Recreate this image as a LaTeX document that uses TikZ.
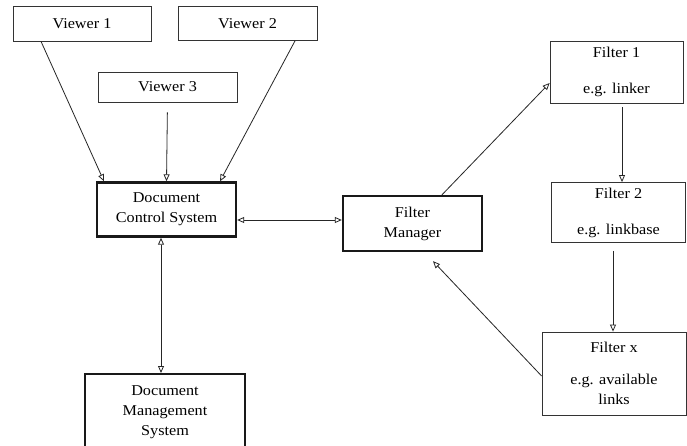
\documentclass[tikz,border=0pt]{standalone}
\usepackage{fontspec}
\setmainfont{Liberation Serif}[FakeStretch=1.08]
\usetikzlibrary{arrows.meta}
\begin{document}
\begin{tikzpicture}[x=1pt,y=-1pt,
  thinbox/.style={draw=black!80,line width=0.8pt,inner sep=0pt,align=center,
    font=\fontsize{15}{20}\selectfont,text=black},
  thickbox/.style={thinbox,line width=2.4pt,draw=black!90},
  arr/.style={draw=black!85,line width=0.8pt,-{Triangle[open,length=7pt,width=6pt]}},
  darr/.style={draw=black!85,line width=0.8pt,{Triangle[open,length=7pt,width=6pt]}-{Triangle[open,length=7pt,width=6pt]}}]
\clip (0,0) rectangle (687,446);
\fill[white] (0,0) rectangle (687,446);
\node[thinbox,minimum width=138pt,minimum height=35pt] (v1) at (82,23.5) {Viewer 1};
\node[thinbox,minimum width=139pt,minimum height=34pt] (v2) at (247.5,23.5) {Viewer 2};
\node[thinbox,minimum width=139pt,minimum height=30pt] (v3) at (167.5,87) {Viewer 3};
\node[thickbox,minimum width=139pt,minimum height=54pt] (dcs) at (166.5,209.5) {Document\\Control System};
\node[thickbox,minimum width=139pt,minimum height=55pt] (fm) at (412.5,223.5) {Filter\\Manager};
\node[thinbox,minimum width=133pt,minimum height=62pt] (f1) at (616.5,72) {Filter 1\\[16pt]e.g. linker};
\node[thinbox,minimum width=134pt,minimum height=60pt] (f2) at (618.5,212.5) {Filter 2\\[16pt]e.g. linkbase};
\node[thinbox,minimum width=144pt,minimum height=83pt] (fx) at (614,373.5) {Filter x\\[12pt]e.g. available\\links};
\node[thickbox,minimum width=160pt,minimum height=85pt,anchor=north] (dms) at (165,373) {};
\node[font=\fontsize{15}{20}\selectfont,align=center,text=black,inner sep=0pt] (dmst) at (165,412) {Document\\Management\\System};
\draw[arr] ([xshift=-41pt]v1.south) -- ([xshift=-62.5pt]dcs.north);
\draw[arr] ([xshift=47.5pt]v2.south) -- ([xshift=53.5pt]dcs.north);
\draw[arr,shorten <=10pt] (v3.south) -- (dcs.north);
\draw[darr] ([yshift=-10.5pt]dcs.east) -- ([yshift=3.5pt]fm.west);
\draw[darr] ([xshift=-5.5pt]dcs.south) -- ([xshift=-4pt]dms.north);
\draw[arr] ([xshift=29.5pt]fm.north) -- ([yshift=-11pt]f1.west);
\draw[arr,shorten <=4pt] ([xshift=5.5pt]f1.south) -- ([xshift=3.5pt]f2.north);
\draw[arr,shorten <=8pt] ([xshift=-5.5pt]f2.south) -- ([xshift=-1pt]fx.north);
\draw[arr] ([yshift=-2.5pt]fx.west) -- ([xshift=20.5pt,yshift=-9pt]fm.south);
\end{tikzpicture}
\end{document}
